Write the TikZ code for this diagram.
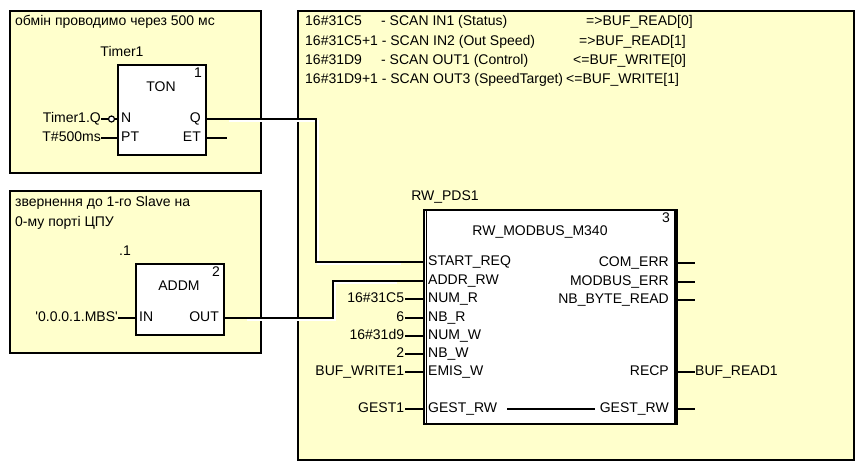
\documentclass[tikz,border=0pt]{standalone}
\usepackage{fontspec}
\setmainfont{Liberation Sans}
\newfontfamily\fbdface{Liberation Sans}
\definecolor{notefill}{RGB}{255,255,204}
\newcommand\fbdfont{\fbdface\fontsize{14}{16}\selectfont}
\tikzset{
  note/.style={draw=black, line width=2pt, fill=notefill, anchor=north west, inner sep=0pt},
  fblock/.style={draw=black, line width=2pt, fill=white, anchor=north west, inner sep=0pt},
  pin/.style={inner sep=0pt, text height=10pt, text depth=3pt},
  wire/.style={line width=1.8pt},
  wireshade/.style={white, line width=1.5pt, transform canvas={xshift=1.8pt, yshift=-1.8pt}},
}
\begin{document}
\begin{tikzpicture}[x=1pt, y=-1pt, font=\fbdfont]
  \useasboundingbox (0,0) rectangle (861,474);
  % comment boxes
  \node[note, minimum width=251pt, minimum height=162pt] (note1) at (9,10) {};
  \node[note, minimum width=251pt, minimum height=162pt] (note2) at (9,190) {};
  \node[note, minimum width=556pt, minimum height=449pt] (note3) at (297,10) {};
  \node[pin, anchor=west] (cmt1) at (15,22) {обмін проводимо через 500 мс};
  \node[pin, anchor=west] (cmt2a) at (15,203) {звернення до 1-го Slave на};
  \node[pin, anchor=west] (cmt2b) at (15,223) {0-му порті ЦПУ};
  \node[pin, anchor=west] (scan1a) at (305,22) {16\#31C5};
  \node[pin, anchor=west] (scan1b) at (381,22) {- SCAN IN1 (Status)};
  \node[pin, anchor=west] (scan1c) at (586,22) {=>BUF\_READ[0]};
  \node[pin, anchor=west] (scan2a) at (305,42) {16\#31C5+1 - SCAN IN2 (Out Speed)};
  \node[pin, anchor=west] (scan2c) at (579,42) {=>BUF\_READ[1]};
  \node[pin, anchor=west] (scan3a) at (305,61) {16\#31D9};
  \node[pin, anchor=west] (scan3b) at (381,61) {- SCAN OUT1 (Control)};
  \node[pin, anchor=west] (scan3c) at (573,61) {<=BUF\_WRITE[0]};
  \node[pin, anchor=west] (scan4a) at (305,80) {16\#31D9+1 - SCAN OUT3 (SpeedTarget)};
  \node[pin, anchor=west] (scan4c) at (566,80) {<=BUF\_WRITE[1]};

  % TON block
  \node[fblock, minimum width=88pt, minimum height=90pt] (ton) at (117,64) {};
  \node[pin] (tonname) at (122,53) {Timer1};
  \node[pin] (tontype) at (161,88) {TON};
  \node[pin, anchor=north east] (tonno) at (202,67) {1};
  \coordinate (ton-n) at (117,119);
  \coordinate (ton-pt) at (117,138);
  \coordinate (ton-q) at (205,119);
  \coordinate (ton-et) at (205,138);
  \node[pin, anchor=west] at (121,119) {N};
  \node[pin, anchor=west] at (121,138) {PT};
  \node[pin, anchor=east] at (201,119) {Q};
  \node[pin, anchor=east] at (201,138) {ET};
  \node[circle, draw, line width=1.2pt, fill=white, minimum size=6pt, inner sep=0pt] (neg) at (111.5,119) {};
  \node[pin, anchor=east] (tonin) at (101,119) {Timer1.Q};
  \node[pin, anchor=east] (tonpt) at (101,138) {T\#500ms};
  \draw[wire] (tonin.east) -- (neg.west);
  \draw[wire] (neg.east) -- (ton-n);
  \draw[wire] (tonpt.east) -- (ton-pt);
  \draw[wire] (ton-et) -- ++(22,0);

  % ADDM block
  \node[fblock, minimum width=88pt, minimum height=71pt] (addm) at (135,263) {};
  \node[pin] (addmname) at (125,252) {.1};
  \node[pin] (addmtype) at (179,287) {ADDM};
  \node[pin, anchor=north east] (addmno) at (220,266) {2};
  \coordinate (addm-in) at (135,318);
  \coordinate (addm-out) at (223,318);
  \node[pin, anchor=west] at (139,318) {IN};
  \node[pin, anchor=east] at (219,318) {OUT};
  \node[pin, anchor=east] (addmin) at (118,318) {'0.0.0.1.MBS'};
  \draw[wire] (addmin.east) -- (addm-in);

  % RW_MODBUS_M340 block
  \node[fblock, minimum width=251pt, minimum height=214pt] (rw) at (423,209) {};
  \draw[line width=1.2pt] ([xshift=3.5pt]rw.north west) -- ([xshift=3.5pt]rw.south west);
  \draw[line width=3pt] (rw.north east) -- (rw.south east);
  \node[pin] (rwname) at (445,197) {RW\_PDS1};
  \node[pin] (rwtype) at (540,232) {RW\_MODBUS\_M340};
  \node[pin, anchor=north east] (rwno) at (670,212) {3};
  \foreach \y/\name/\lbl in {262/start/START\_REQ, 281/addr/ADDR\_RW,
      299/numr/NUM\_R, 318/nbr/NB\_R, 336/numw/NUM\_W, 354/nbw/NB\_W,
      372/emis/EMIS\_W, 409/gest/GEST\_RW} {
    \coordinate (rw-\name) at (423,\y);
    \node[pin, anchor=west] (rw-\name-lbl) at (428,\y) {\lbl};
  }
  \foreach \y/\name/\lbl in {263/comerr/COM\_ERR, 282/mberr/MODBUS\_ERR,
      300/nbbyte/NB\_BYTE\_READ, 372/recp/RECP, 409/gestout/GEST\_RW} {
    \coordinate (rw-\name) at (674,\y);
    \node[pin, anchor=east] (rw-\name-lbl) at (669,\y) {\lbl};
    \draw[wire] (rw-\name) -- ++(21,0);
  }
  \draw[wire] ([xshift=10pt]rw-gest-lbl.east) -- ([xshift=-5pt]rw-gestout-lbl.west);
  \foreach \name/\val in {numr/16\#31C5, nbr/6, numw/16\#31d9, nbw/2,
      emis/BUF\_WRITE1, gest/GEST1} {
    \draw[wire] (rw-\name) -- ++(-18,0) node[pin, anchor=east] {\val};
  }
  \node[pin, anchor=west] (recpout) at (695,372) {BUF\_READ1};

  % links between blocks
  \draw[wireshade] ([xshift=22pt]ton-q) -- ++(89,0) |- ([xshift=-24pt]rw-start);
  \draw[wireshade] ([xshift=22pt]addm-out) -- ++(88,0) |- ([xshift=-28pt]rw-addr);
  \draw[wire] (ton-q) -- ++(111,0) |- (rw-start);
  \draw[wire] (addm-out) -- ++(110,0) |- (rw-addr);
\end{tikzpicture}
\end{document}
